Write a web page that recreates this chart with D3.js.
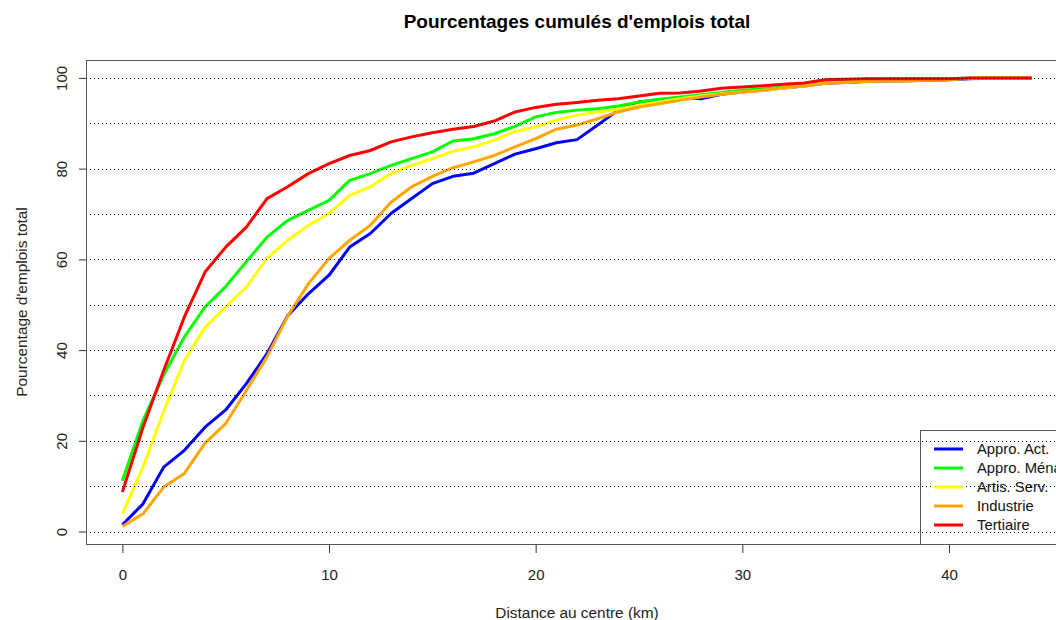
<!DOCTYPE html>
<html>
<head>
<meta charset="utf-8">
<script src="https://cdn.jsdelivr.net/npm/d3@7"></script>
<style>
    body { margin: 0; background: #fff; }
    svg { display: block; font-family: "Liberation Sans", Arial, sans-serif; }
</style>
</head>
<body>
<svg id="chart" width="1056" height="620"></svg>
<script>
var distance = [0, 1, 2, 3, 4, 5, 6, 7, 8, 9, 10, 11, 12, 13, 14, 15, 16, 17, 18, 19, 20, 21,
    22, 23, 24, 25, 26, 27, 28, 29, 30, 31, 32, 33, 34, 35, 36, 37, 38, 39, 40, 41, 42, 43, 44];

var approAct = [1.5, 6.1, 14.2, 17.9, 23.0, 26.8, 32.6, 39.2, 47.6, 52.4, 56.5, 62.7, 65.7, 70.1,
    73.4, 76.7, 78.3, 79.0, 81.1, 83.2, 84.4, 85.7, 86.4, 89.6, 92.9, 94.7, 95.2, 95.7, 95.4, 96.4,
    96.9, 97.3, 97.8, 98.2, 98.8, 99.0, 99.2, 99.3, 99.4, 99.5, 99.6, 99.8, 99.9, 100, 100];
var approMen = [11.2, 24.5, 34.5, 42.9, 49.5, 54.0, 59.5, 64.9, 68.6, 70.8, 73.0, 77.4, 78.9, 80.7,
    82.2, 83.7, 86.1, 86.6, 87.7, 89.3, 91.4, 92.4, 92.9, 93.2, 93.8, 94.7, 95.3, 95.8, 96.3, 96.8,
    97.3, 97.6, 98.0, 98.4, 99.3, 99.5, 99.6, 99.7, 99.8, 99.8, 99.8, 99.9, 100, 100, 100];
var artisServ = [3.9, 14.2, 26.5, 37.7, 45.0, 49.5, 53.9, 60.2, 64.2, 67.5, 70.1, 74.1, 76.0, 78.9,
    80.7, 82.2, 83.8, 84.8, 86.3, 88.2, 89.2, 90.7, 91.8, 92.5, 93.1, 94.0, 94.7, 95.4, 96.0, 96.5,
    96.9, 97.2, 97.8, 98.2, 98.9, 99.1, 99.3, 99.4, 99.5, 99.6, 99.7, 99.9, 100, 100, 100];
var industrie = [1.1, 3.9, 9.8, 12.8, 19.5, 23.8, 31.1, 38.5, 47.5, 54.6, 60.2, 64.2, 67.5, 72.6,
    76.0, 78.3, 80.2, 81.5, 82.9, 84.8, 86.6, 88.7, 89.6, 91.0, 92.5, 93.6, 94.3, 95.1, 95.8, 96.4,
    96.9, 97.3, 97.9, 98.2, 98.8, 99.0, 99.2, 99.3, 99.3, 99.5, 99.6, 100, 100, 100, 100];
var tertiaire = [8.7, 23.0, 35.5, 47.3, 57.2, 62.7, 67.1, 73.4, 76.0, 78.9, 81.1, 82.9, 84.0, 85.9,
    87.0, 87.9, 88.7, 89.3, 90.5, 92.5, 93.5, 94.2, 94.6, 95.1, 95.4, 96.0, 96.6, 96.7, 97.1, 97.7,
    98.0, 98.3, 98.6, 98.9, 99.6, 99.7, 99.8, 99.8, 99.8, 99.8, 99.8, 100, 100, 100, 100];

var seriesNames = ["Appro. Act.", "Appro. Ménages", "Artis. Serv.", "Industrie", "Tertiaire"];
var seriesColors = ["#0000ff", "#00ff00", "#ffff00", "#ffa500", "#ff0000"];
var xTicks = [0, 10, 20, 30, 40];
var yTicks = [0, 20, 40, 60, 80, 100];
var gridTicks = [0, 10, 20, 30, 40, 50, 60, 70, 80, 90, 100];

var svg = d3.select("#chart"),
    box = {left: 86, top: 60, right: 1068, bottom: 544},
    x = d3.scaleLinear().domain([-1.76, 45.76]).range([box.left, box.right]),
    y = d3.scaleLinear().domain([-2.75, 103.95]).range([box.bottom, box.top]);

var allSeries = [approAct, approMen, artisServ, industrie, tertiaire];

drawChart();

function drawChart() {
    var line = d3.line()
        .x(function(d, i) { return x(distance[i]); })
        .y(function(d) { return y(d); });

    // curves first, R drew the grid on top of them
    svg.append("g").selectAll("path")
        .data(allSeries)
        .enter().append("path")
            .attr("fill", "none")
            .attr("stroke", function(d, i) { return seriesColors[i]; })
            .attr("stroke-width", 3)
            .attr("stroke-linejoin", "round")
            .attr("d", line);

    svg.append("g").selectAll("line")
        .data(gridTicks)
        .enter().append("line")
            .attr("x1", box.left)
            .attr("x2", box.right)
            .attr("y1", function(d) { return Math.round(y(d)) + 0.5; })
            .attr("y2", function(d) { return Math.round(y(d)) + 0.5; })
            .attr("stroke", "#000")
            .attr("stroke-width", 1)
            .attr("stroke-dasharray", "1,3");

    svg.append("rect")
        .attr("x", box.left + 0.5)
        .attr("y", box.top + 0.5)
        .attr("width", box.right - box.left)
        .attr("height", box.bottom - box.top)
        .attr("fill", "none")
        .attr("stroke", "#555");

    var xAxis = svg.append("g")
        .attr("transform", "translate(0," + (box.bottom + 1) + ")")
        .call(d3.axisBottom(x).tickValues(xTicks).tickSize(8).tickPadding(16));
    xAxis.select(".domain").remove();
    xAxis.selectAll(".tick line").attr("stroke", "#333");
    xAxis.selectAll(".tick text").attr("fill", "#222").style("font-size", "15px");

    var yAxis = svg.append("g")
        .attr("transform", "translate(" + box.left + ",0)")
        .call(d3.axisLeft(y).tickValues(yTicks).tickSize(7));
    yAxis.select(".domain").remove();
    yAxis.selectAll(".tick line").attr("stroke", "#333");
    yAxis.selectAll(".tick text")
        .attr("x", 0)
        .attr("dy", 0)
        .attr("text-anchor", "middle")
        .attr("transform", "translate(-19,0) rotate(-90)")
        .attr("fill", "#222")
        .style("font-size", "15px");

    svg.append("text")
        .attr("x", (box.left + box.right) / 2)
        .attr("y", 28)
        .attr("text-anchor", "middle")
        .style("font-size", "19px")
        .style("font-weight", "bold")
        .text("Pourcentages cumulés d'emplois total");

    svg.append("text")
        .attr("x", (box.left + box.right) / 2)
        .attr("y", 618)
        .attr("text-anchor", "middle")
        .attr("fill", "#222")
        .style("font-size", "15.4px")
        .text("Distance au centre (km)");

    svg.append("text")
        .attr("transform", "translate(27," + ((box.top + box.bottom) / 2) + ") rotate(-90)")
        .attr("text-anchor", "middle")
        .attr("fill", "#222")
        .style("font-size", "15.4px")
        .text("Pourcentage d'emplois total");

    drawLegend();
}

function drawLegend() {
    var lg = svg.append("g");
    lg.append("rect")
        .attr("x", 920.5)
        .attr("y", 430.5)
        .attr("width", 200)
        .attr("height", box.bottom - 430)
        .attr("fill", "none")
        .attr("stroke", "#555");

    var items = lg.selectAll(".item")
        .data(seriesNames)
        .enter().append("g")
            .attr("class", "item")
            .attr("transform", function(d, i) { return "translate(0," + (449 + i * 19) + ")"; });

    items.append("line")
        .attr("x1", 934)
        .attr("x2", 963)
        .attr("stroke", function(d, i) { return seriesColors[i]; })
        .attr("stroke-width", 3);

    items.append("text")
        .attr("x", 977)
        .attr("dy", "0.36em")
        .attr("fill", "#111")
        .style("font-size", "14.8px")
        .text(function(d) { return d; });
}
</script>
</body>
</html>
